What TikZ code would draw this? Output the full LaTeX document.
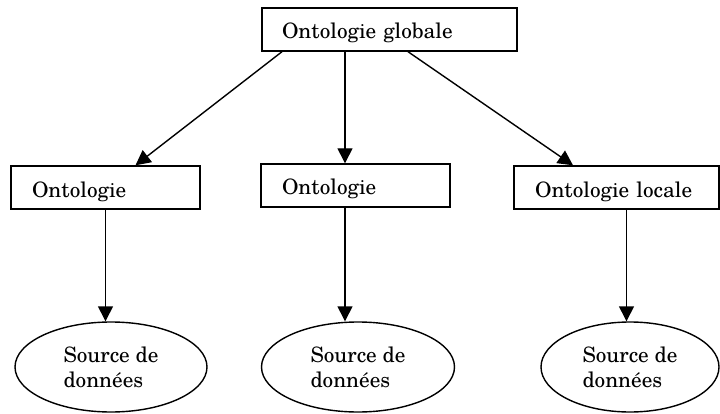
\documentclass[tikz,border=0pt]{standalone}
\usepackage{fontspec}
\setmainfont{TeX Gyre Schola}
\usetikzlibrary{arrows.meta,shapes.geometric}

\begin{document}
\begin{tikzpicture}[x=1pt,y=-1pt,
  font=\fontsize{21.2}{25}\selectfont,
  box/.style={draw=black,line width=1.4pt,rectangle,minimum height=43,
    inner xsep=0pt,inner ysep=0pt,align=left,text height=21pt,text depth=2pt},
  src/.style={draw=black,line width=1.4pt,ellipse,inner sep=0pt,align=left},
  arr/.style={line width=1.4pt,-{Triangle[length=15pt,width=15pt]}}]
\useasboundingbox (0,0) rectangle (720,414);

% ontologies
\node[box,minimum width=255,text width=215] (T) at (389.5,29.5) {Ontologie globale};
\node[box,minimum width=189,text width=147] (L) at (105.5,187.5) {Ontologie};
\node[box,minimum width=189,text width=147] (M) at (355.5,185.5) {Ontologie};
\node[box,minimum width=205,text width=163] (R) at (616.5,187.5) {Ontologie locale};

% data sources
\node[src,minimum width=192,minimum height=90] (Ls) at (111,367) {Source de\\données};
\node[src,minimum width=193,minimum height=90] (Ms) at (358,367) {Source de\\données};
\node[src,minimum width=178,minimum height=90] (Rs) at (630,367) {Source de\\données};

% global to local
\draw[arr] ([xshift=-107.5]T.south) -- ([xshift=30]L.north);
\draw[arr] ([xshift=-44.5]T.south) -- ([xshift=-10.5]M.north);
\draw[arr] ([xshift=18.5]T.south) -- ([xshift=-43.5]R.north);

% local to sources
\draw[arr] (L.south) -- (L.south |- Ls.north);
\draw[arr] ([xshift=-10.5]M.south) -- ([xshift=-10.5]M.south |- Ms.north);
\draw[arr] ([xshift=10]R.south) -- ([xshift=10]R.south |- Rs.north);
\end{tikzpicture}
\end{document}
